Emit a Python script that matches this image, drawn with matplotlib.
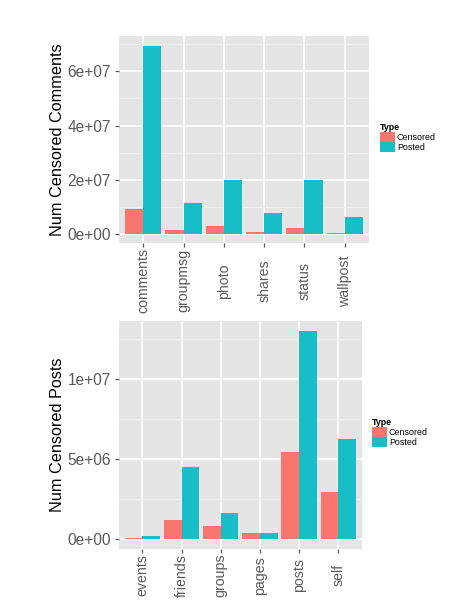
import matplotlib
matplotlib.use("Agg")
import matplotlib.pyplot as plt
from matplotlib.patches import Patch
from matplotlib.ticker import FixedLocator, FuncFormatter
import numpy as np

plt.rcParams['font.family'] = ['Liberation Sans', 'DejaVu Sans']

# ---- data ----
comment_cats = ["comments", "groupmsg", "photo", "shares", "status", "wallpost"]
comment_censored = [9.3e6, 1.6e6, 2.9e6, 1.0e6, 2.3e6, 0.6e6]
comment_posted = [69.4e6, 11.5e6, 19.9e6, 7.8e6, 20.0e6, 6.5e6]

post_cats = ["events", "friends", "groups", "pages", "posts", "self"]
post_censored = [0.08e6, 1.18e6, 0.83e6, 0.41e6, 5.42e6, 2.94e6]
post_posted = [0.2e6, 4.5e6, 1.62e6, 0.40e6, 12.99e6, 6.26e6]

legend_title = "Type"
legend_labels = ["Censored", "Posted"]

RED = "#F8766D"
TEAL = "#17BEC5"
BG = "#E5E5E5"
TICKC = "#5A5A5A"

fig = plt.figure(figsize=(4.72, 6.08), dpi=100)


def sci(v, _):
    if v == 0:
        return "0e+00"
    return "%.0e" % v


def panel(rect, cats, cens, post, ylim, major, minor, ylabel, xpad, legend_xy):
    ax = fig.add_axes(rect)
    ax.set_facecolor(BG)
    x = np.arange(len(cats))
    w = 0.45
    ax.bar(x - w / 2, cens, width=w, color=RED, zorder=3, linewidth=0)
    ax.bar(x + w / 2, post, width=w, color=TEAL, zorder=3, linewidth=0)
    ax.set_xlim(-0.6, len(cats) - 0.4)
    ax.set_ylim(*ylim)
    ax.yaxis.set_major_locator(FixedLocator(major))
    ax.yaxis.set_minor_locator(FixedLocator(minor))
    ax.yaxis.set_major_formatter(FuncFormatter(sci))
    ax.set_xticks(x)
    ax.set_xticklabels(cats, rotation=90, va='center', ha='center', fontsize=10.2, color=TICKC)
    for s in ax.spines.values():
        s.set_visible(False)
    ax.grid(which='major', color='white', linewidth=1.2, zorder=1)
    ax.grid(which='minor', axis='y', color='#F0F0F0', linewidth=0.6, zorder=1)
    ax.tick_params(axis='both', which='major', length=3.2, width=0.9, color=TICKC,
                   labelcolor=TICKC)
    ax.tick_params(axis='y', which='major', labelsize=11.2, pad=2.5)
    ax.tick_params(axis='x', which='major', pad=xpad)
    ax.tick_params(axis='y', which='minor', length=0)
    ax.set_ylabel(ylabel, fontsize=11.7, color='black', labelpad=2)
    handles = [Patch(facecolor=RED, edgecolor='none'), Patch(facecolor=TEAL, edgecolor='none')]
    fig.legend(handles, legend_labels, title=legend_title, loc='upper left',
               bbox_to_anchor=legend_xy, frameon=False, fontsize=6.4,
               title_fontproperties={'weight': 'bold', 'size': 6.4},
               handlelength=1.65, handleheight=1.3, labelspacing=0.0,
               handletextpad=0.25, borderaxespad=0, borderpad=0,
               alignment='left')
    return ax


panel([119 / 472, 1 - 243 / 608, 250 / 472, 207 / 608],
      comment_cats, comment_censored, comment_posted,
      (-3.2e6, 73e6), [0, 2e7, 4e7, 6e7], [1e7, 3e7, 5e7, 7e7],
      "Num Censored Comments", 24, (380 / 472, 1 - 123 / 608))

panel([119 / 472, 1 - 549.3 / 608, 242.7 / 472, 228.3 / 608],
      post_cats, post_censored, post_posted,
      (-0.62e6, 13.59e6), [0, 5e6, 1e7], [2.5e6, 7.5e6, 1.25e7],
      "Num Censored Posts", 15.5, (372 / 472, 1 - 418 / 608))

fig.savefig("out.png", dpi=100)
